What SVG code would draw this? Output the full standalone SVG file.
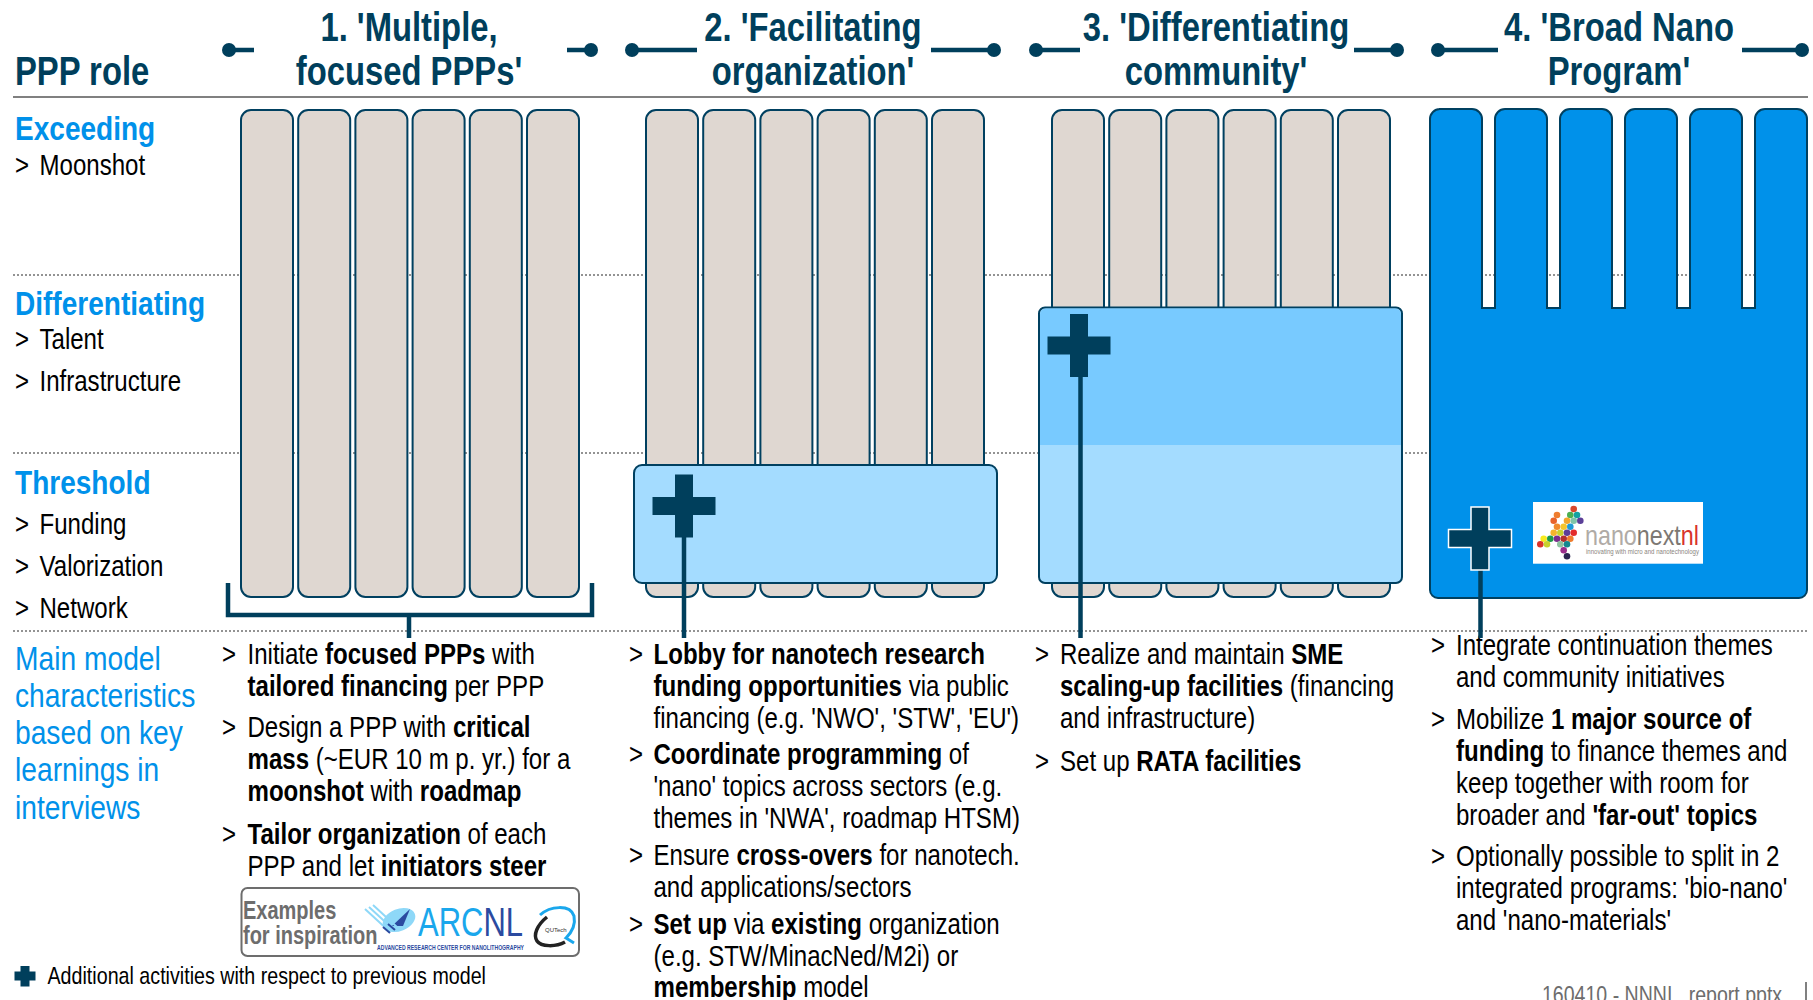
<svg xmlns="http://www.w3.org/2000/svg" width="1813" height="1000" viewBox="0 0 1813 1000">
<style>
text{font-family:"Liberation Sans",Arial,sans-serif;fill:#000}
.b{font-size:29px}
.h{font-size:41px;font-weight:bold;fill:#003f5c;text-anchor:middle}
.r{font-size:33px;font-weight:bold;fill:#0091ea}
.m{font-size:33px;fill:#0091ea}
tspan.s{font-weight:bold}
.bar{fill:#dfd7d1;stroke:#004060;stroke-width:2}
.dot{stroke:#707070;stroke-width:1.5;stroke-dasharray:2 2;fill:none}
.con{stroke:#003f5c;stroke-width:4.5;fill:none}
.ball{fill:#003f5c}
.plus{fill:#003f5c}
</style>
<defs>
<g id="bars"><rect class="bar" x="0" y="110" width="52" height="487" rx="10"/><rect class="bar" x="57.2" y="110" width="52" height="487" rx="10"/><rect class="bar" x="114.4" y="110" width="52" height="487" rx="10"/><rect class="bar" x="171.6" y="110" width="52" height="487" rx="10"/><rect class="bar" x="228.8" y="110" width="52" height="487" rx="10"/><rect class="bar" x="286" y="110" width="52" height="487" rx="10"/></g>
<path id="plus" d="M-9-31.5H9V-9H31.500V9H9V31.500H-9V9H-31.500V-9H-9Z"/>
</defs>
<g id="grid">
<line x1="13" y1="97" x2="1808" y2="97" stroke="#808080" stroke-width="2"/>
<line class="dot" x1="13" y1="275" x2="1808" y2="275"/>
<line class="dot" x1="13" y1="453" x2="1808" y2="453"/>
<line class="dot" x1="13" y1="631" x2="1808" y2="631"/>
</g>
<g id="role-labels">
<text class="h" style="text-anchor:start" transform="translate(15,85) scale(.8,1)">PPP role</text>
<text class="r" transform="translate(15,140) scale(.85,1)">Exceeding</text>
<text class="b" transform="translate(15,175) scale(.83,1)">&gt;</text><text class="b" transform="translate(39.500,175) scale(.83,1)">Moonshot</text>
<text class="r" transform="translate(15,315) scale(.85,1)">Differentiating</text>
<text class="b" transform="translate(15,349) scale(.83,1)">&gt;</text><text class="b" transform="translate(39.500,349) scale(.83,1)">Talent</text>
<text class="b" transform="translate(15,391) scale(.83,1)">&gt;</text><text class="b" transform="translate(39.500,391) scale(.83,1)">Infrastructure</text>
<text class="r" transform="translate(15,494) scale(.85,1)">Threshold</text>
<text class="b" transform="translate(15,534) scale(.83,1)">&gt;</text><text class="b" transform="translate(39.500,534) scale(.83,1)">Funding</text>
<text class="b" transform="translate(15,576) scale(.83,1)">&gt;</text><text class="b" transform="translate(39.500,576) scale(.83,1)">Valorization</text>
<text class="b" transform="translate(15,618) scale(.83,1)">&gt;</text><text class="b" transform="translate(39.500,618) scale(.83,1)">Network</text>
<text class="m" transform="translate(15,670) scale(.855,1)">Main model</text>
<text class="m" transform="translate(15,707) scale(.855,1)">characteristics</text>
<text class="m" transform="translate(15,744) scale(.855,1)">based on key</text>
<text class="m" transform="translate(15,781) scale(.855,1)">learnings in</text>
<text class="m" transform="translate(15,819) scale(.855,1)">interviews</text>
</g>
<g id="model-1">
<use href="#bars" x="241"/>
<text class="h" transform="translate(409,41) scale(.8,1)">1. 'Multiple,</text>
<text class="h" transform="translate(409,85) scale(.8,1)">focused PPPs'</text>
<g id="text-1">
<text class="b" transform="translate(222,664) scale(.83,1)">&gt;</text>
<text class="b" transform="translate(247.500,664) scale(.83,1)">Initiate <tspan class="s">focused PPPs</tspan> with</text>
<text class="b" transform="translate(247.500,696) scale(.83,1)"><tspan class="s">tailored financing</tspan> per PPP</text>
<text class="b" transform="translate(222,737) scale(.83,1)">&gt;</text>
<text class="b" transform="translate(247.500,737) scale(.83,1)">Design a PPP with <tspan class="s">critical</tspan></text>
<text class="b" transform="translate(247.500,769) scale(.83,1)"><tspan class="s">mass</tspan> (~EUR 10 m p. yr.) for a</text>
<text class="b" transform="translate(247.500,801) scale(.83,1)"><tspan class="s">moonshot</tspan> with <tspan class="s">roadmap</tspan></text>
<text class="b" transform="translate(222,844) scale(.83,1)">&gt;</text>
<text class="b" transform="translate(247.500,844) scale(.83,1)"><tspan class="s">Tailor organization</tspan> of each</text>
<text class="b" transform="translate(247.500,876) scale(.83,1)">PPP and let <tspan class="s">initiators steer</tspan></text>
</g>
</g>
<g id="examples">
<rect x="241.500" y="888" width="337.500" height="68" rx="6" fill="#fff" stroke="#6d6d6d" stroke-width="2"/>
<text transform="translate(243,919) scale(.8,1)" style="font-size:25px;font-weight:bold;fill:#6d6d6d">Examples</text>
<text transform="translate(243,944) scale(.8,1)" style="font-size:25px;font-weight:bold;fill:#6d6d6d">for inspiration</text>
<ellipse cx="399" cy="920" rx="17" ry="11" fill="#8ed8f8" transform="rotate(-22 399 920)"/>
<path d="M410 909L392 926L403 926Z" fill="#2b4aa0"/>
<path d="M365 909L390 932M369 907L394 930M373 905L398 928" stroke="#8ed8f8" stroke-width="2" fill="none"/>
<path d="M383 927L390 933M388 924L395 930" stroke="#2b4aa0" stroke-width="2" fill="none"/>
<text x="418" y="936" textLength="105" lengthAdjust="spacingAndGlyphs" style="font-size:40px;fill:#1aa7ec">ARC<tspan style="fill:#2b4aa0">NL</tspan></text>
<text x="377" y="950" textLength="147" lengthAdjust="spacingAndGlyphs" style="font-size:6.500px;font-weight:bold;fill:#2b4aa0">ADVANCED RESEARCH CENTER FOR NANOLITHOGRAPHY</text>
<path d="M547 917C537 925 533 935 537 941C541 947 556 947 565 942" stroke="#222" stroke-width="3.500" fill="none"/>
<path d="M540 915C550 906 570 904 574 916C576 926 570 934 566 938L574 943" stroke="#1aa7ec" stroke-width="3" fill="none"/>
<text x="545" y="932" style="font-size:6px;fill:#333">QUTech</text>
</g>
<g id="model-2">
<use href="#bars" x="646"/>
<rect x="634" y="465" width="363" height="118" rx="8" fill="#a4dcff" stroke="#004060" stroke-width="2"/>
<text class="h" transform="translate(813,41) scale(.8,1)">2. 'Facilitating</text>
<text class="h" transform="translate(813,85) scale(.8,1)">organization'</text>
<g id="text-2">
<text class="b" transform="translate(629,664) scale(.83,1)">&gt;</text>
<text class="b" transform="translate(653.500,664) scale(.83,1)"><tspan class="s">Lobby for nanotech research</tspan></text>
<text class="b" transform="translate(653.500,696) scale(.83,1)"><tspan class="s">funding opportunities</tspan> via public</text>
<text class="b" transform="translate(653.500,728) scale(.83,1)">financing (e.g. 'NWO', 'STW', 'EU')</text>
<text class="b" transform="translate(629,764) scale(.83,1)">&gt;</text>
<text class="b" transform="translate(653.500,764) scale(.83,1)"><tspan class="s">Coordinate programming</tspan> of</text>
<text class="b" transform="translate(653.500,796) scale(.83,1)">'nano' topics across sectors (e.g.</text>
<text class="b" transform="translate(653.500,828) scale(.83,1)">themes in 'NWA', roadmap HTSM)</text>
<text class="b" transform="translate(629,865) scale(.83,1)">&gt;</text>
<text class="b" transform="translate(653.500,865) scale(.83,1)">Ensure <tspan class="s">cross-overs</tspan> for nanotech.</text>
<text class="b" transform="translate(653.500,897) scale(.83,1)">and applications/sectors</text>
<text class="b" transform="translate(629,934) scale(.83,1)">&gt;</text>
<text class="b" transform="translate(653.500,934) scale(.83,1)"><tspan class="s">Set up</tspan> via <tspan class="s">existing</tspan> organization</text>
<text class="b" transform="translate(653.500,966) scale(.83,1)">(e.g. STW/MinacNed/M2i) or</text>
<text class="b" transform="translate(653.500,997) scale(.83,1)"><tspan class="s">membership</tspan> model</text>
</g>
</g>
<g id="model-3">
<use href="#bars" x="1052"/>
<rect x="1039" y="307.500" width="363" height="275.500" rx="6" fill="#a4dcff" stroke="#004060" stroke-width="2"/>
<path d="M1040 445V314.500a6 6 0 0 1 6-6H1395a6 6 0 0 1 6 6V445Z" fill="#78caff"/>
<text class="h" transform="translate(1216,41) scale(.8,1)">3. 'Differentiating</text>
<text class="h" transform="translate(1216,85) scale(.8,1)">community'</text>
<g id="text-3">
<text class="b" transform="translate(1035,664) scale(.83,1)">&gt;</text>
<text class="b" transform="translate(1060,664) scale(.83,1)">Realize and maintain <tspan class="s">SME</tspan></text>
<text class="b" transform="translate(1060,696) scale(.83,1)"><tspan class="s">scaling-up facilities</tspan> (financing</text>
<text class="b" transform="translate(1060,728) scale(.83,1)">and infrastructure)</text>
<text class="b" transform="translate(1035,771) scale(.83,1)">&gt;</text>
<text class="b" transform="translate(1060,771) scale(.83,1)">Set up <tspan class="s">RATA facilities</tspan></text>
</g>
</g>
<g id="model-4">
<path d="M1439 109H1472a10 10 0 0 1 10 10V308h13V119a10 10 0 0 1 10-10H1537a10 10 0 0 1 10 10V308h13V119a10 10 0 0 1 10-10H1602a10 10 0 0 1 10 10V308h13V119a10 10 0 0 1 10-10H1667a10 10 0 0 1 10 10V308h13V119a10 10 0 0 1 10-10H1732a10 10 0 0 1 10 10V308h13V119a10 10 0 0 1 10-10H1797a10 10 0 0 1 10 10V590a8 8 0 0 1-8 8H1438a8 8 0 0 1-8-8V119a10 10 0 0 1 10-10Z" fill="#0091ea" stroke="#004060" stroke-width="2"/>
<text class="h" transform="translate(1619,41) scale(.8,1)">4. 'Broad Nano</text>
<text class="h" transform="translate(1619,85) scale(.8,1)">Program'</text>
<g id="nanonext">
<rect x="1533" y="502" width="170" height="61.700" fill="#fff"/>
<g id="logo-dots">
<circle cx="1573.700" cy="509" r="3.300" fill="#d9472b"/><circle cx="1557" cy="515" r="3.300" fill="#ef7d2f"/><circle cx="1570.300" cy="515" r="3.300" fill="#4caf50"/><circle cx="1577" cy="515" r="3.300" fill="#14a2a2"/><circle cx="1553.700" cy="520.700" r="3.300" fill="#e8632b"/><circle cx="1567" cy="520.700" r="3.300" fill="#f2a62c"/><circle cx="1573.700" cy="520.700" r="3.300" fill="#7fc4a8"/><circle cx="1580.300" cy="520.700" r="3.300" fill="#5b3f98"/><circle cx="1557" cy="526.700" r="3.300" fill="#f08a2c"/><circle cx="1563.700" cy="526.700" r="3.300" fill="#f5c52c"/><circle cx="1570.300" cy="526.700" r="3.300" fill="#1e9ad6"/><circle cx="1553.700" cy="532.700" r="3.300" fill="#f5b52c"/><circle cx="1560.300" cy="532.700" r="3.300" fill="#c8d22e"/><circle cx="1567" cy="532.700" r="3.300" fill="#5b3f98"/><circle cx="1573.700" cy="532.700" r="3.300" fill="#e32b2b"/><circle cx="1543.700" cy="538.700" r="3.300" fill="#f7ea1e"/><circle cx="1550.300" cy="538.700" r="3.300" fill="#1e9a4a"/><circle cx="1557" cy="538.700" r="3.300" fill="#7b2d8b"/><circle cx="1563.700" cy="538.700" r="3.300" fill="#b3302c"/><circle cx="1570.300" cy="538.700" r="3.300" fill="#ef7d2f"/><circle cx="1540.300" cy="544.300" r="3.300" fill="#d9332b"/><circle cx="1547" cy="544.300" r="3.300" fill="#c8d22e"/><circle cx="1560.300" cy="544.300" r="3.300" fill="#8fc3a0"/><circle cx="1567" cy="544.300" r="3.300" fill="#14888f"/><circle cx="1563.700" cy="550.300" r="3.300" fill="#9b2d8b"/><circle cx="1567" cy="556.300" r="3.300" fill="#2b2550"/>
</g>
<text x="1585" y="545" textLength="114" lengthAdjust="spacingAndGlyphs" style="font-size:28px;fill:#b0aba6">nano<tspan style="fill:#7d7873">next</tspan><tspan style="fill:#d9332b">nl</tspan></text>
<text x="1586" y="554" textLength="113" lengthAdjust="spacingAndGlyphs" style="font-size:7px;fill:#8a8580">innovating with micro and nanotechnology</text>
</g>
<g id="text-4">
<text class="b" transform="translate(1431,655) scale(.83,1)">&gt;</text>
<text class="b" transform="translate(1456,655) scale(.83,1)">Integrate continuation themes</text>
<text class="b" transform="translate(1456,687) scale(.83,1)">and community initiatives</text>
<text class="b" transform="translate(1431,729) scale(.83,1)">&gt;</text>
<text class="b" transform="translate(1456,729) scale(.83,1)">Mobilize <tspan class="s">1 major source of</tspan></text>
<text class="b" transform="translate(1456,761) scale(.83,1)"><tspan class="s">funding</tspan> to finance themes and</text>
<text class="b" transform="translate(1456,793) scale(.83,1)">keep together with room for</text>
<text class="b" transform="translate(1456,825) scale(.83,1)">broader and <tspan class="s">'far-out' topics</tspan></text>
<text class="b" transform="translate(1431,866) scale(.83,1)">&gt;</text>
<text class="b" transform="translate(1456,866) scale(.83,1)">Optionally possible to split in 2</text>
<text class="b" transform="translate(1456,898) scale(.83,1)">integrated programs: 'bio-nano'</text>
<text class="b" transform="translate(1456,930) scale(.83,1)">and 'nano-materials'</text>
</g>
</g>
<g id="connectors">
<path class="con" d="M229 50H254M567 50H591M632 50H697M931 50H994M1036 50H1080M1354 50H1397M1438 50H1498M1742 50H1802"/>
<circle class="ball" cx="229" cy="50" r="7"/><circle class="ball" cx="591" cy="50" r="7"/><circle class="ball" cx="632" cy="50" r="7"/><circle class="ball" cx="994" cy="50" r="7"/><circle class="ball" cx="1036" cy="50" r="7"/><circle class="ball" cx="1397" cy="50" r="7"/><circle class="ball" cx="1438" cy="50" r="7"/><circle class="ball" cx="1802" cy="50" r="7"/>
<path class="con" d="M228 583V615H592V583M409 615V638"/>
<path class="con" d="M684 537V638M1080.500 377V638M1480.500 569V638"/>
<use href="#plus" class="plus" x="684" y="506"/>
<use href="#plus" class="plus" x="1079" y="345.500"/>
<use href="#plus" class="plus" x="1480" y="538.500" stroke="#fff" stroke-width="1.500"/>
</g>
<g id="legend">
<path class="plus" d="M20.500 966h9v5.500h6v9h-6v6h-9v-6h-6v-9h6Z"/>
<text transform="translate(47.500,984) scale(.82,1)" style="font-size:24px">Additional activities with respect to previous model</text>
</g>
<g id="footer">
<text transform="translate(1542,1003) scale(.815,1)" style="font-size:24px;fill:#6d6d6d">160410 - NNNI_ report.pptx</text>
<line x1="1806" y1="982" x2="1806" y2="1000" stroke="#808080" stroke-width="2"/>
</g>
</svg>
